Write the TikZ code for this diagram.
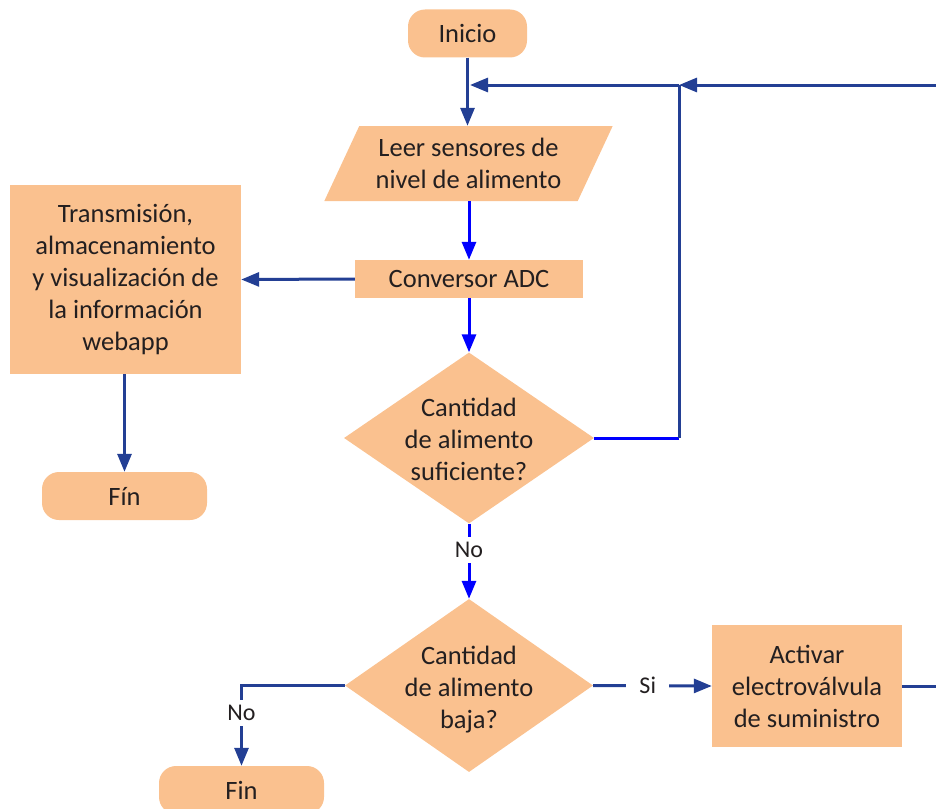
\documentclass[tikz,border=0pt]{standalone}
\usepackage{fontspec}
\setmainfont{Carlito}
\usetikzlibrary{shapes.geometric,arrows.meta}
\definecolor{peach}{HTML}{FAC18F}
\definecolor{navy}{HTML}{233F94}
\definecolor{vivid}{HTML}{0000FF}
\definecolor{ink}{HTML}{231F20}

\begin{document}
\begin{tikzpicture}[x=1pt,y=-1pt,
  every node/.style={text=ink, font=\fontsize{26.5}{32}\selectfont},
  terminal/.style={fill=peach, rounded corners=17pt, minimum height=48pt, inner sep=0pt},
  process/.style={fill=peach, inner sep=0pt, align=center},
  iobox/.style={trapezium, fill=peach, inner sep=0pt, align=center,
    trapezium stretches=true, trapezium left angle=59.6, trapezium right angle=120.4,
    minimum width=289pt, minimum height=75pt},
  decision/.style={diamond, fill=peach, inner sep=0pt},
  dtext/.style={align=center, inner sep=0pt},
  flow/.style={draw=navy, line width=3pt, -{Triangle[length=18pt,width=14pt]}},
  flowv/.style={flow, draw=vivid},
  wire/.style={draw=navy, line width=3pt},
  wirev/.style={draw=vivid, line width=3pt},
  tag/.style={font=\fontsize{24}{28}\selectfont, fill=white, inner xsep=3pt, inner ysep=5pt}
]
\path[use as bounding box] (0,0) rectangle (936,808);
\clip (0,0) rectangle (936,808);

% blocks
\node[terminal, minimum width=119pt] (ini) at (467.5,33.5) {Inicio};
\node[iobox] (leer) at (468.5,163.5) {Leer sensores de\\nivel de alimento};
\node[process, minimum width=228pt, minimum height=38pt] (conv) at (469,279) {Conversor ADC};
\node[process, minimum width=231pt, minimum height=189pt] (trans) at (125.5,279.5)
  {Transmisión,\\almacenamiento\\y visualización de\\la información\\webapp};
\node[terminal, minimum width=165pt] (fin1) at (124.5,496) {Fín};
\node[decision, minimum width=250pt, minimum height=171pt] (d1) at (469,438) {};
\node[dtext] (d1t) at (469,439) {Cantidad\\de alimento\\suficiente?};
\node[decision, minimum width=248pt, minimum height=173pt] (d2) at (469,685.5) {};
\node[dtext] (d2t) at (469,690) {Cantidad\\de alimento\\baja?};
\node[process, minimum width=190pt, minimum height=122pt] (act) at (807,686)
  {Activar\\electroválvula\\de suministro};
\node[terminal, minimum width=165pt] (fin2) at (241.5,790) {Fin};

% junction points of the feedback loop
\coordinate (merge) at (470,85);
\coordinate (ret) at (679,85);
\coordinate (d1r) at (679,438);

% connectors
\draw[flow] (ini.south) -- (ini.south |- leer.north);
\draw[flowv] (leer.south -| conv.north) -- (conv.north);
\draw[flow] (conv.west) -- (trans.east);
\draw[flow] (trans.south -| fin1.north) -- (fin1.north);
\draw[flowv] (conv.south) -- (d1.north);
\draw[wirev] (d1.east) -- (d1r);
\draw[wire] (d1r) -- (ret);
\draw[flow] (ret) -- (merge);
\draw[flowv] (d1.south) -- node[tag, pos=0.35] (no1) {No} (d2.north);
\draw[flow] (d2.west) -| node[tag, pos=0.67] (no2) {No} (fin2.north);
\draw[flow] (d2.east) -- node[tag, pos=0.46, inner xsep=13pt] (si) {Si} (act.west);
\draw[flow] (act.east) -- (960,686) |- (ret);
\end{tikzpicture}
\end{document}
